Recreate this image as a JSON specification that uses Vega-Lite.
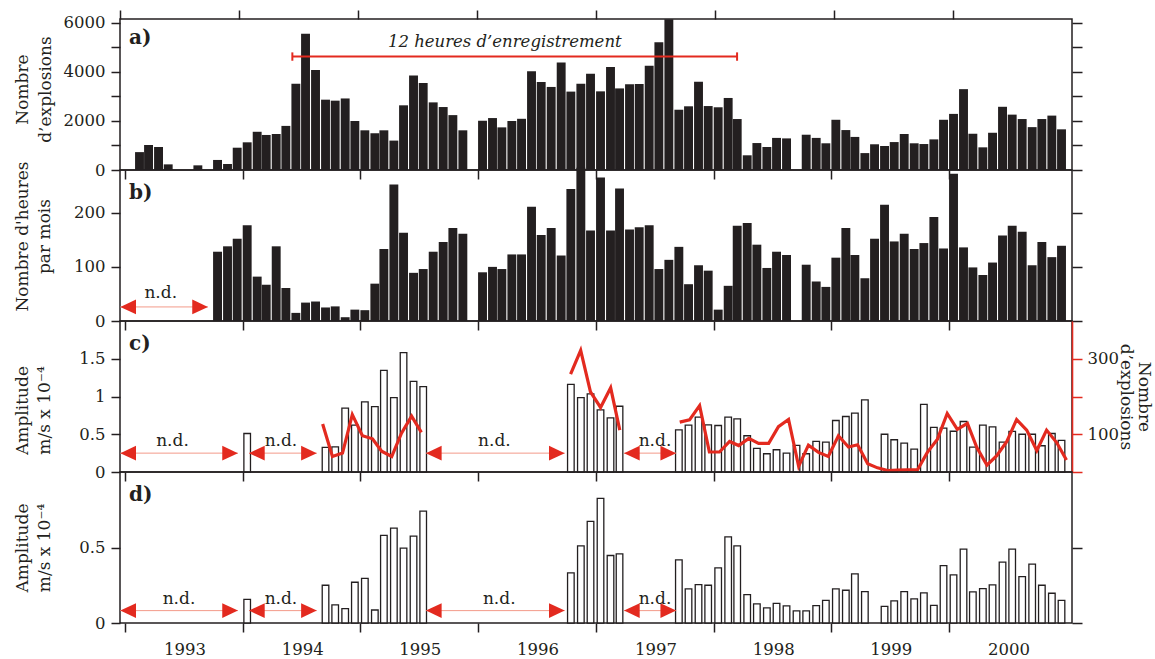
{
  "$schema": "https://vega.github.io/schema/vega-lite/v6.json",
  "background": "white",
  "padding": {"left": 12, "top": 8, "right": 0, "bottom": 0},
  "spacing": 0,
  "bounds": "flush",
  "config": {
    "font": "DejaVu Serif",
    "view": {"stroke": "#231f20", "strokeWidth": 1.5},
    "axis": {
      "grid": false, "domain": false, "ticks": true,
      "tickColor": "#231f20", "tickWidth": 1.5, "tickSize": 9,
      "labelFont": "DejaVu Serif", "labelFontSize": 16.5, "labelColor": "#231f20", "labelPadding": 6,
      "titleFont": "DejaVu Serif", "titleFontSize": 17, "titleFontWeight": "normal", "titleColor": "#231f20"
    }
  },
  "datasets": {
    "mensuel": [
      {"date": "1993-02-15", "a": 730},
      {"date": "1993-03-15", "a": 1020},
      {"date": "1993-04-15", "a": 940},
      {"date": "1993-05-15", "a": 230},
      {"date": "1993-08-15", "a": 190},
      {"date": "1993-10-15", "a": 410, "b": 128},
      {"date": "1993-11-15", "a": 245, "b": 138},
      {"date": "1993-12-15", "a": 910, "b": 152},
      {"date": "1994-01-15", "a": 1130, "b": 177, "c": 0.51, "d": 0.157},
      {"date": "1994-02-15", "a": 1560, "b": 82},
      {"date": "1994-03-15", "a": 1430, "b": 67},
      {"date": "1994-04-15", "a": 1470, "b": 138},
      {"date": "1994-05-15", "a": 1800, "b": 61},
      {"date": "1994-06-15", "a": 3520, "b": 15},
      {"date": "1994-07-15", "a": 5560, "b": 34},
      {"date": "1994-08-15", "a": 4080, "b": 36},
      {"date": "1994-09-15", "a": 2870, "b": 25, "c": 0.326, "d": 0.25},
      {"date": "1994-10-15", "a": 2830, "b": 27, "c": 0.334, "d": 0.12},
      {"date": "1994-11-15", "a": 2920, "b": 7, "c": 0.845, "d": 0.095},
      {"date": "1994-12-15", "a": 2000, "b": 21, "c": 0.62, "d": 0.27},
      {"date": "1995-01-15", "a": 1620, "b": 20, "c": 0.928, "d": 0.296},
      {"date": "1995-02-15", "a": 1500, "b": 69, "c": 0.867, "d": 0.086},
      {"date": "1995-03-15", "a": 1620, "b": 133, "c": 1.345, "d": 0.58},
      {"date": "1995-04-15", "a": 1200, "b": 252, "c": 0.985, "d": 0.628},
      {"date": "1995-05-15", "a": 2640, "b": 163, "c": 1.58, "d": 0.496},
      {"date": "1995-06-15", "a": 3860, "b": 89, "c": 1.2, "d": 0.575},
      {"date": "1995-07-15", "a": 3550, "b": 96, "c": 1.13, "d": 0.741},
      {"date": "1995-08-15", "a": 2760, "b": 128},
      {"date": "1995-09-15", "a": 2570, "b": 146},
      {"date": "1995-10-15", "a": 2240, "b": 172},
      {"date": "1995-11-15", "a": 1620, "b": 161},
      {"date": "1996-01-15", "a": 2010, "b": 90},
      {"date": "1996-02-15", "a": 2120, "b": 100},
      {"date": "1996-03-15", "a": 1740, "b": 96},
      {"date": "1996-04-15", "a": 2000, "b": 123},
      {"date": "1996-05-15", "a": 2090, "b": 123},
      {"date": "1996-06-15", "a": 4030, "b": 211},
      {"date": "1996-07-15", "a": 3590, "b": 159},
      {"date": "1996-08-15", "a": 3390, "b": 172},
      {"date": "1996-09-15", "a": 4390, "b": 121},
      {"date": "1996-10-15", "a": 3200, "b": 244, "c": 1.16, "d": 0.332},
      {"date": "1996-11-15", "a": 3520, "b": 283, "c": 0.985, "d": 0.511},
      {"date": "1996-12-15", "a": 3930, "b": 167, "c": 1.034, "d": 0.673},
      {"date": "1997-01-15", "a": 3210, "b": 265, "c": 0.823, "d": 0.825},
      {"date": "1997-02-15", "a": 4200, "b": 167, "c": 0.717, "d": 0.447},
      {"date": "1997-03-15", "a": 3330, "b": 245, "c": 0.871, "d": 0.458},
      {"date": "1997-04-15", "a": 3500, "b": 169},
      {"date": "1997-05-15", "a": 3510, "b": 173},
      {"date": "1997-06-15", "a": 4260, "b": 177},
      {"date": "1997-07-15", "a": 5210, "b": 96},
      {"date": "1997-08-15", "a": 6150, "b": 113},
      {"date": "1997-09-15", "a": 2460, "b": 137, "c": 0.559, "d": 0.418},
      {"date": "1997-10-15", "a": 2600, "b": 68, "c": 0.62, "d": 0.226},
      {"date": "1997-11-15", "a": 3600, "b": 103, "c": 0.726, "d": 0.254},
      {"date": "1997-12-15", "a": 2610, "b": 93, "c": 0.625, "d": 0.25},
      {"date": "1998-01-15", "a": 2560, "b": 21, "c": 0.616, "d": 0.365},
      {"date": "1998-02-15", "a": 2940, "b": 65, "c": 0.726, "d": 0.571},
      {"date": "1998-03-15", "a": 2080, "b": 176, "c": 0.704, "d": 0.511},
      {"date": "1998-04-15", "a": 600, "b": 181, "c": 0.48, "d": 0.188},
      {"date": "1998-05-15", "a": 1100, "b": 141, "c": 0.312, "d": 0.126},
      {"date": "1998-06-15", "a": 940, "b": 98, "c": 0.242, "d": 0.1},
      {"date": "1998-07-15", "a": 1310, "b": 128, "c": 0.295, "d": 0.13},
      {"date": "1998-08-15", "a": 1290, "b": 122, "c": 0.25, "d": 0.113},
      {"date": "1998-09-15", "c": 0.352, "d": 0.08},
      {"date": "1998-10-15", "a": 1440, "b": 104, "c": 0.242, "d": 0.08},
      {"date": "1998-11-15", "a": 1310, "b": 73, "c": 0.405, "d": 0.115},
      {"date": "1998-12-15", "a": 1090, "b": 63, "c": 0.396, "d": 0.15},
      {"date": "1999-01-15", "a": 2050, "b": 117, "c": 0.682, "d": 0.226},
      {"date": "1999-02-15", "a": 1630, "b": 172, "c": 0.735, "d": 0.217},
      {"date": "1999-03-15", "a": 1350, "b": 122, "c": 0.779, "d": 0.325},
      {"date": "1999-04-15", "a": 690, "b": 79, "c": 0.955, "d": 0.208},
      {"date": "1999-05-15", "a": 1050, "b": 152},
      {"date": "1999-06-15", "a": 980, "b": 215, "c": 0.5, "d": 0.11},
      {"date": "1999-07-15", "a": 1140, "b": 147, "c": 0.427, "d": 0.146},
      {"date": "1999-08-15", "a": 1470, "b": 161, "c": 0.383, "d": 0.208},
      {"date": "1999-09-15", "a": 1090, "b": 133, "c": 0.304, "d": 0.16},
      {"date": "1999-10-15", "a": 1060, "b": 144, "c": 0.897, "d": 0.2},
      {"date": "1999-11-15", "a": 1250, "b": 192, "c": 0.59, "d": 0.117},
      {"date": "1999-12-15", "a": 2050, "b": 134, "c": 0.58, "d": 0.38},
      {"date": "2000-01-15", "a": 2290, "b": 272, "c": 0.54, "d": 0.319},
      {"date": "2000-02-15", "a": 3300, "b": 136, "c": 0.669, "d": 0.489},
      {"date": "2000-03-15", "a": 1480, "b": 99, "c": 0.33, "d": 0.206},
      {"date": "2000-04-15", "a": 925, "b": 85, "c": 0.62, "d": 0.228},
      {"date": "2000-05-15", "a": 1520, "b": 108, "c": 0.598, "d": 0.252},
      {"date": "2000-06-15", "a": 2580, "b": 158, "c": 0.396, "d": 0.403},
      {"date": "2000-07-15", "a": 2260, "b": 176, "c": 0.537, "d": 0.489},
      {"date": "2000-08-15", "a": 2080, "b": 165, "c": 0.5, "d": 0.307},
      {"date": "2000-09-15", "a": 1750, "b": 103, "c": 0.5, "d": 0.39},
      {"date": "2000-10-15", "a": 2080, "b": 146, "c": 0.348, "d": 0.25},
      {"date": "2000-11-15", "a": 2220, "b": 118, "c": 0.51, "d": 0.197},
      {"date": "2000-12-15", "a": 1660, "b": 139, "c": 0.418, "d": 0.15}
    ],
    "explosions": [
      {"date": "1994-09-15", "n": 127, "serie": 1},
      {"date": "1994-10-15", "n": 41, "serie": 1},
      {"date": "1994-11-15", "n": 50, "serie": 1},
      {"date": "1994-12-15", "n": 152, "serie": 1},
      {"date": "1995-01-15", "n": 96, "serie": 1},
      {"date": "1995-02-15", "n": 88, "serie": 1},
      {"date": "1995-03-15", "n": 55, "serie": 1},
      {"date": "1995-04-15", "n": 41, "serie": 1},
      {"date": "1995-05-15", "n": 103, "serie": 1},
      {"date": "1995-06-15", "n": 148, "serie": 1},
      {"date": "1995-07-15", "n": 105, "serie": 1},
      {"date": "1996-10-15", "n": 259, "serie": 2},
      {"date": "1996-11-15", "n": 322, "serie": 2},
      {"date": "1996-12-15", "n": 212, "serie": 2},
      {"date": "1997-01-15", "n": 171, "serie": 2},
      {"date": "1997-02-15", "n": 223, "serie": 2},
      {"date": "1997-03-15", "n": 111, "serie": 2},
      {"date": "1997-09-15", "n": 132, "serie": 3},
      {"date": "1997-10-15", "n": 138, "serie": 3},
      {"date": "1997-11-15", "n": 176, "serie": 3},
      {"date": "1997-12-15", "n": 53, "serie": 3},
      {"date": "1998-01-15", "n": 53, "serie": 3},
      {"date": "1998-02-15", "n": 81, "serie": 3},
      {"date": "1998-03-15", "n": 70, "serie": 3},
      {"date": "1998-04-15", "n": 89, "serie": 3},
      {"date": "1998-05-15", "n": 76, "serie": 3},
      {"date": "1998-06-15", "n": 76, "serie": 3},
      {"date": "1998-07-15", "n": 120, "serie": 3},
      {"date": "1998-08-15", "n": 139, "serie": 3},
      {"date": "1998-09-15", "n": 15, "serie": 3},
      {"date": "1998-10-15", "n": 71, "serie": 3},
      {"date": "1998-11-15", "n": 52, "serie": 3},
      {"date": "1998-12-15", "n": 41, "serie": 3},
      {"date": "1999-01-15", "n": 96, "serie": 3},
      {"date": "1999-02-15", "n": 66, "serie": 3},
      {"date": "1999-03-15", "n": 72, "serie": 3},
      {"date": "1999-04-15", "n": 22, "serie": 3},
      {"date": "1999-05-15", "n": 11, "serie": 3},
      {"date": "1999-06-15", "n": 4, "serie": 3},
      {"date": "1999-07-15", "n": 5, "serie": 3},
      {"date": "1999-08-15", "n": 6, "serie": 3},
      {"date": "1999-09-15", "n": 6, "serie": 3},
      {"date": "1999-10-15", "n": 52, "serie": 3},
      {"date": "1999-11-15", "n": 87, "serie": 3},
      {"date": "1999-12-15", "n": 155, "serie": 3},
      {"date": "2000-01-15", "n": 113, "serie": 3},
      {"date": "2000-02-15", "n": 129, "serie": 3},
      {"date": "2000-03-15", "n": 65, "serie": 3},
      {"date": "2000-04-15", "n": 18, "serie": 3},
      {"date": "2000-05-15", "n": 43, "serie": 3},
      {"date": "2000-06-15", "n": 81, "serie": 3},
      {"date": "2000-07-15", "n": 139, "serie": 3},
      {"date": "2000-08-15", "n": 111, "serie": 3},
      {"date": "2000-09-15", "n": 57, "serie": 3},
      {"date": "2000-10-15", "n": 111, "serie": 3},
      {"date": "2000-11-15", "n": 78, "serie": 3},
      {"date": "2000-12-15", "n": 32, "serie": 3}
    ],
    "enregistrement": [
      {"debut": "1994-06-14", "fin": "1998-03-10", "milieu": "1996-03-27", "niveau": 4630, "texte": "12 heures d’enregistrement"}
    ],
    "nd": [
      {"panneau": "b", "debut": "1993-01-02", "fin": "1993-09-28", "milieu": "1993-05-06", "niveau": 26},
      {"panneau": "c", "debut": "1993-01-02", "fin": "1993-12-29", "milieu": "1993-06-11", "niveau": 0.25},
      {"panneau": "c", "debut": "1994-02-01", "fin": "1994-08-28", "milieu": "1994-05-10", "niveau": 0.25},
      {"panneau": "c", "debut": "1995-07-29", "fin": "1996-09-27", "milieu": "1996-02-24", "niveau": 0.25},
      {"panneau": "c", "debut": "1997-03-28", "fin": "1997-09-04", "milieu": "1997-07-01", "niveau": 0.25},
      {"panneau": "d", "debut": "1993-01-02", "fin": "1993-12-29", "milieu": "1993-07-01", "niveau": 0.082},
      {"panneau": "d", "debut": "1994-02-01", "fin": "1994-08-28", "milieu": "1994-05-10", "niveau": 0.082},
      {"panneau": "d", "debut": "1995-07-29", "fin": "1996-09-27", "milieu": "1996-03-10", "niveau": 0.082},
      {"panneau": "d", "debut": "1997-03-28", "fin": "1997-09-04", "milieu": "1997-07-01", "niveau": 0.082}
    ]
  },
  "vconcat": [
    {
      "width": 952, "height": 151,
      "resolve": {"scale": {"x": "independent", "y": "independent"}, "axis": {"x": "independent", "y": "independent"}},
      "layer": [
        {
          "data": {"name": "mensuel"},
          "transform": [{"filter": "isValid(datum.a)"}],
          "mark": {"type": "bar", "width": 8.9, "color": "#231f20"},
          "encoding": {
            "x": {"field": "date", "type": "temporal", "scale": {"domain": [{"year": 1993, "month": 1, "date": 1}, {"year": 2001, "month": 1, "date": 1}]},
                  "axis": {"orient": "bottom", "values": [{"year": 1993}, {"year": 1994}, {"year": 1995}, {"year": 1996}, {"year": 1997}, {"year": 1998}, {"year": 1999}, {"year": 2000}], "labels": false, "title": null}},
            "y": {"field": "a", "type": "quantitative", "scale": {"domain": [0, 6163], "nice": false},
                  "axis": {"orient": "left", "values": [0, 1000, 2000, 3000, 4000, 5000, 6000], "format": "d", "labelExpr": "datum.value % 2000 === 0 ? datum.label : ''",
                           "title": ["Nombre", "d’explosions"], "titleX": -89, "titleY": 70, "titleLineHeight": 23}}
          }
        },
        {
          "data": {"name": "enregistrement"},
          "mark": {"type": "rule", "color": "#e32a1f", "strokeWidth": 2},
          "encoding": {
            "x": {"field": "debut", "type": "temporal", "scale": {"domain": [{"year": 1993, "month": 1, "date": 1}, {"year": 2001, "month": 1, "date": 1}]},
                  "axis": {"orient": "top", "values": [{"year": 1993}, {"year": 1994}, {"year": 1995}, {"year": 1996}, {"year": 1997}, {"year": 1998}, {"year": 1999}, {"year": 2000}], "labels": false, "title": null}},
            "x2": {"field": "fin"},
            "y": {"field": "niveau", "type": "quantitative", "scale": {"domain": [0, 6163], "nice": false},
                  "axis": {"orient": "right", "values": [0, 1000, 2000, 3000, 4000, 5000, 6000], "labels": false, "tickSize": 10, "title": null}}
          }
        },
        {
          "data": {"name": "enregistrement"},
          "mark": {"type": "point", "shape": "M0,-1L0,1", "size": 70, "filled": false, "stroke": "#e32a1f", "strokeWidth": 2, "opacity": 1},
          "encoding": {
            "x": {"field": "debut", "type": "temporal", "scale": {"domain": [{"year": 1993, "month": 1, "date": 1}, {"year": 2001, "month": 1, "date": 1}]}, "axis": null},
            "y": {"field": "niveau", "type": "quantitative", "scale": {"domain": [0, 6163], "nice": false}, "axis": null}
          }
        },
        {
          "data": {"name": "enregistrement"},
          "mark": {"type": "point", "shape": "M0,-1L0,1", "size": 70, "filled": false, "stroke": "#e32a1f", "strokeWidth": 2, "opacity": 1},
          "encoding": {
            "x": {"field": "fin", "type": "temporal", "scale": {"domain": [{"year": 1993, "month": 1, "date": 1}, {"year": 2001, "month": 1, "date": 1}]}, "axis": null},
            "y": {"field": "niveau", "type": "quantitative", "scale": {"domain": [0, 6163], "nice": false}, "axis": null}
          }
        },
        {
          "data": {"name": "enregistrement"},
          "mark": {"type": "text", "fontStyle": "italic", "fontSize": 16.5, "baseline": "alphabetic", "align": "center", "dy": -10, "color": "#231f20"},
          "encoding": {
            "x": {"field": "milieu", "type": "temporal", "scale": {"domain": [{"year": 1993, "month": 1, "date": 1}, {"year": 2001, "month": 1, "date": 1}]}, "axis": null},
            "y": {"field": "niveau", "type": "quantitative", "scale": {"domain": [0, 6163], "nice": false}, "axis": null},
            "text": {"field": "texte"}
          }
        },
        {
          "data": {"values": [{}]},
          "mark": {"type": "text", "text": "a)", "align": "left", "baseline": "top", "dx": 9, "dy": 8.6, "fontSize": 20, "fontWeight": "bold", "color": "#231f20"},
          "encoding": {
            "x": {"datum": {"year": 1993, "month": 1, "date": 1}, "type": "temporal", "scale": {"domain": [{"year": 1993, "month": 1, "date": 1}, {"year": 2001, "month": 1, "date": 1}]}, "axis": null},
            "y": {"datum": 6163, "type": "quantitative", "scale": {"domain": [0, 6163], "nice": false}, "axis": null}
          }
        }
      ]
    },
    {
      "width": 952, "height": 151,
      "resolve": {"scale": {"x": "independent", "y": "independent"}, "axis": {"x": "independent", "y": "independent"}},
      "layer": [
        {
          "data": {"name": "mensuel"},
          "transform": [{"filter": "isValid(datum.b)"}],
          "mark": {"type": "bar", "width": 8.9, "color": "#231f20"},
          "encoding": {
            "x": {"field": "date", "type": "temporal", "scale": {"domain": [{"year": 1993, "month": 1, "date": 1}, {"year": 2001, "month": 1, "date": 1}]},
                  "axis": {"orient": "bottom", "values": [{"year": 1993}, {"year": 1994}, {"year": 1995}, {"year": 1996}, {"year": 1997}, {"year": 1998}, {"year": 1999}, {"year": 2000}], "labels": false, "title": null}},
            "y": {"field": "b", "type": "quantitative", "scale": {"domain": [0, 279], "nice": false},
                  "axis": {"orient": "left", "values": [0, 100, 200], "format": "d",
                           "title": ["Nombre d'heures", "par mois"], "titleX": -89, "titleY": 66, "titleLineHeight": 22}}
          }
        },
        {
          "data": {"name": "nd"},
          "transform": [{"filter": "datum.panneau === 'b'"}],
          "mark": {"type": "rule", "color": "#f39a8a", "strokeWidth": 1},
          "encoding": {
            "x": {"field": "debut", "type": "temporal", "scale": {"domain": [{"year": 1993, "month": 1, "date": 1}, {"year": 2001, "month": 1, "date": 1}]}, "axis": null},
            "x2": {"field": "fin"},
            "y": {"field": "niveau", "type": "quantitative", "scale": {"domain": [0, 279], "nice": false},
                  "axis": {"orient": "right", "values": [0, 100, 200], "labels": false, "tickSize": 10, "title": null}}
          }
        },
        {
          "data": {"name": "nd"},
          "transform": [{"filter": "datum.panneau === 'b'"}],
          "mark": {"type": "point", "shape": "M-1,0L1,-0.94L1,0.94Z", "size": 246, "filled": true, "color": "#e32a1f", "opacity": 1, "xOffset": 7.85},
          "encoding": {
            "x": {"field": "debut", "type": "temporal", "scale": {"domain": [{"year": 1993, "month": 1, "date": 1}, {"year": 2001, "month": 1, "date": 1}]}, "axis": null},
            "y": {"field": "niveau", "type": "quantitative", "scale": {"domain": [0, 279], "nice": false}, "axis": null}
          }
        },
        {
          "data": {"name": "nd"},
          "transform": [{"filter": "datum.panneau === 'b'"}],
          "mark": {"type": "point", "shape": "M1,0L-1,-0.94L-1,0.94Z", "size": 246, "filled": true, "color": "#e32a1f", "opacity": 1, "xOffset": -7.85},
          "encoding": {
            "x": {"field": "fin", "type": "temporal", "scale": {"domain": [{"year": 1993, "month": 1, "date": 1}, {"year": 2001, "month": 1, "date": 1}]}, "axis": null},
            "y": {"field": "niveau", "type": "quantitative", "scale": {"domain": [0, 279], "nice": false}, "axis": null}
          }
        },
        {
          "data": {"name": "nd"},
          "transform": [{"filter": "datum.panneau === 'b'"}],
          "mark": {"type": "text", "text": "n.d.", "fontSize": 17, "baseline": "alphabetic", "align": "center", "dy": -9, "color": "#231f20"},
          "encoding": {
            "x": {"field": "milieu", "type": "temporal", "scale": {"domain": [{"year": 1993, "month": 1, "date": 1}, {"year": 2001, "month": 1, "date": 1}]}, "axis": null},
            "y": {"field": "niveau", "type": "quantitative", "scale": {"domain": [0, 279], "nice": false}, "axis": null}
          }
        },
        {
          "data": {"values": [{}]},
          "mark": {"type": "text", "text": "b)", "align": "left", "baseline": "top", "dx": 9, "dy": 13.2, "fontSize": 20, "fontWeight": "bold", "color": "#231f20"},
          "encoding": {
            "x": {"datum": {"year": 1993, "month": 1, "date": 1}, "type": "temporal", "scale": {"domain": [{"year": 1993, "month": 1, "date": 1}, {"year": 2001, "month": 1, "date": 1}]}, "axis": null},
            "y": {"datum": 279, "type": "quantitative", "scale": {"domain": [0, 279], "nice": false}, "axis": null}
          }
        }
      ]
    },
    {
      "width": 952, "height": 151,
      "resolve": {"scale": {"x": "independent", "y": "independent"}, "axis": {"x": "independent", "y": "independent"}},
      "layer": [
        {
          "data": {"name": "mensuel"},
          "transform": [{"filter": "isValid(datum.c)"}],
          "mark": {"type": "bar", "width": 6.6, "fill": "white", "stroke": "#231f20", "strokeWidth": 1.3},
          "encoding": {
            "x": {"field": "date", "type": "temporal", "scale": {"domain": [{"year": 1993, "month": 1, "date": 1}, {"year": 2001, "month": 1, "date": 1}]},
                  "axis": {"orient": "bottom", "values": [{"year": 1993}, {"year": 1994}, {"year": 1995}, {"year": 1996}, {"year": 1997}, {"year": 1998}, {"year": 1999}, {"year": 2000}], "labels": false, "title": null}},
            "y": {"field": "c", "type": "quantitative", "scale": {"domain": [0, 2], "nice": false},
                  "axis": {"orient": "left", "values": [0, 0.5, 1, 1.5], "format": "~g",
                           "title": ["Amplitude", "m/s  x 10⁻⁴"], "titleX": -89, "titleY": 89, "titleLineHeight": 22}}
          }
        },
        {
          "data": {"name": "explosions"},
          "mark": {"type": "line", "color": "#e32a1f", "strokeWidth": 3.2},
          "encoding": {
            "x": {"field": "date", "type": "temporal", "scale": {"domain": [{"year": 1993, "month": 1, "date": 1}, {"year": 2001, "month": 1, "date": 1}]}, "axis": null},
            "y": {"field": "n", "type": "quantitative", "scale": {"domain": [0, 400], "nice": false},
                  "axis": {"orient": "right", "values": [0, 100, 200, 300], "format": "d", "labelExpr": "datum.value === 100 || datum.value === 300 ? datum.label : ''",
                           "domain": true, "domainColor": "#e32a1f", "domainWidth": 1.6, "tickColor": "#e32a1f", "tickSize": 10, "labelPadding": 5,
                           "title": ["Nombre", "d’explosions"], "titleX": 62, "titleLineHeight": 18}},
            "detail": {"field": "serie", "type": "nominal"}
          }
        },
        {
          "data": {"name": "nd"},
          "transform": [{"filter": "datum.panneau === 'c'"}],
          "mark": {"type": "rule", "color": "#f39a8a", "strokeWidth": 1},
          "encoding": {
            "x": {"field": "debut", "type": "temporal", "scale": {"domain": [{"year": 1993, "month": 1, "date": 1}, {"year": 2001, "month": 1, "date": 1}]}, "axis": null},
            "x2": {"field": "fin"},
            "y": {"field": "niveau", "type": "quantitative", "scale": {"domain": [0, 2], "nice": false}, "axis": null}
          }
        },
        {
          "data": {"name": "nd"},
          "transform": [{"filter": "datum.panneau === 'c'"}],
          "mark": {"type": "point", "shape": "M-1,0L1,-0.94L1,0.94Z", "size": 246, "filled": true, "color": "#e32a1f", "opacity": 1, "xOffset": 7.85},
          "encoding": {
            "x": {"field": "debut", "type": "temporal", "scale": {"domain": [{"year": 1993, "month": 1, "date": 1}, {"year": 2001, "month": 1, "date": 1}]}, "axis": null},
            "y": {"field": "niveau", "type": "quantitative", "scale": {"domain": [0, 2], "nice": false}, "axis": null}
          }
        },
        {
          "data": {"name": "nd"},
          "transform": [{"filter": "datum.panneau === 'c'"}],
          "mark": {"type": "point", "shape": "M1,0L-1,-0.94L-1,0.94Z", "size": 246, "filled": true, "color": "#e32a1f", "opacity": 1, "xOffset": -7.85},
          "encoding": {
            "x": {"field": "fin", "type": "temporal", "scale": {"domain": [{"year": 1993, "month": 1, "date": 1}, {"year": 2001, "month": 1, "date": 1}]}, "axis": null},
            "y": {"field": "niveau", "type": "quantitative", "scale": {"domain": [0, 2], "nice": false}, "axis": null}
          }
        },
        {
          "data": {"name": "nd"},
          "transform": [{"filter": "datum.panneau === 'c'"}],
          "mark": {"type": "text", "text": "n.d.", "fontSize": 17, "baseline": "alphabetic", "align": "center", "dy": -7, "color": "#231f20"},
          "encoding": {
            "x": {"field": "milieu", "type": "temporal", "scale": {"domain": [{"year": 1993, "month": 1, "date": 1}, {"year": 2001, "month": 1, "date": 1}]}, "axis": null},
            "y": {"field": "niveau", "type": "quantitative", "scale": {"domain": [0, 2], "nice": false}, "axis": null}
          }
        },
        {
          "data": {"values": [{}]},
          "mark": {"type": "text", "text": "c)", "align": "left", "baseline": "top", "dx": 9, "dy": 13.2, "fontSize": 20, "fontWeight": "bold", "color": "#231f20"},
          "encoding": {
            "x": {"datum": {"year": 1993, "month": 1, "date": 1}, "type": "temporal", "scale": {"domain": [{"year": 1993, "month": 1, "date": 1}, {"year": 2001, "month": 1, "date": 1}]}, "axis": null},
            "y": {"datum": 2, "type": "quantitative", "scale": {"domain": [0, 2], "nice": false}, "axis": null}
          }
        }
      ]
    },
    {
      "width": 952, "height": 151,
      "resolve": {"scale": {"x": "independent", "y": "independent"}, "axis": {"x": "independent", "y": "independent"}},
      "layer": [
        {
          "data": {"name": "mensuel"},
          "transform": [{"filter": "isValid(datum.d)"}],
          "mark": {"type": "bar", "width": 6.6, "fill": "white", "stroke": "#231f20", "strokeWidth": 1.3},
          "encoding": {
            "x": {"field": "date", "type": "temporal", "scale": {"domain": [{"year": 1993, "month": 1, "date": 1}, {"year": 2001, "month": 1, "date": 1}]},
                  "axis": {"orient": "bottom", "values": [{"year": 1993}, {"year": 1994}, {"year": 1995}, {"year": 1996}, {"year": 1997}, {"year": 1998}, {"year": 1999}, {"year": 2000}],
                           "format": "%Y", "labelOffset": 59.5, "labelFlush": false, "labelOverlap": false, "labelBound": false, "labelPadding": 9, "title": null}},
            "y": {"field": "d", "type": "quantitative", "scale": {"domain": [0, 1], "nice": false},
                  "axis": {"orient": "left", "values": [0, 0.5], "format": "~g",
                           "title": ["Amplitude", "m/s  x 10⁻⁴"], "titleX": -89, "titleLineHeight": 22}}
          }
        },
        {
          "data": {"name": "nd"},
          "transform": [{"filter": "datum.panneau === 'd'"}],
          "mark": {"type": "rule", "color": "#f39a8a", "strokeWidth": 1},
          "encoding": {
            "x": {"field": "debut", "type": "temporal", "scale": {"domain": [{"year": 1993, "month": 1, "date": 1}, {"year": 2001, "month": 1, "date": 1}]}, "axis": null},
            "x2": {"field": "fin"},
            "y": {"field": "niveau", "type": "quantitative", "scale": {"domain": [0, 1], "nice": false},
                  "axis": {"orient": "right", "values": [0, 0.5], "labels": false, "tickSize": 10, "title": null}}
          }
        },
        {
          "data": {"name": "nd"},
          "transform": [{"filter": "datum.panneau === 'd'"}],
          "mark": {"type": "point", "shape": "M-1,0L1,-0.94L1,0.94Z", "size": 246, "filled": true, "color": "#e32a1f", "opacity": 1, "xOffset": 7.85},
          "encoding": {
            "x": {"field": "debut", "type": "temporal", "scale": {"domain": [{"year": 1993, "month": 1, "date": 1}, {"year": 2001, "month": 1, "date": 1}]}, "axis": null},
            "y": {"field": "niveau", "type": "quantitative", "scale": {"domain": [0, 1], "nice": false}, "axis": null}
          }
        },
        {
          "data": {"name": "nd"},
          "transform": [{"filter": "datum.panneau === 'd'"}],
          "mark": {"type": "point", "shape": "M1,0L-1,-0.94L-1,0.94Z", "size": 246, "filled": true, "color": "#e32a1f", "opacity": 1, "xOffset": -7.85},
          "encoding": {
            "x": {"field": "fin", "type": "temporal", "scale": {"domain": [{"year": 1993, "month": 1, "date": 1}, {"year": 2001, "month": 1, "date": 1}]}, "axis": null},
            "y": {"field": "niveau", "type": "quantitative", "scale": {"domain": [0, 1], "nice": false}, "axis": null}
          }
        },
        {
          "data": {"name": "nd"},
          "transform": [{"filter": "datum.panneau === 'd'"}],
          "mark": {"type": "text", "text": "n.d.", "fontSize": 17, "baseline": "alphabetic", "align": "center", "dy": -7, "color": "#231f20"},
          "encoding": {
            "x": {"field": "milieu", "type": "temporal", "scale": {"domain": [{"year": 1993, "month": 1, "date": 1}, {"year": 2001, "month": 1, "date": 1}]}, "axis": null},
            "y": {"field": "niveau", "type": "quantitative", "scale": {"domain": [0, 1], "nice": false}, "axis": null}
          }
        },
        {
          "data": {"values": [{}]},
          "mark": {"type": "text", "text": "d)", "align": "left", "baseline": "top", "dx": 9, "dy": 13.2, "fontSize": 20, "fontWeight": "bold", "color": "#231f20"},
          "encoding": {
            "x": {"datum": {"year": 1993, "month": 1, "date": 1}, "type": "temporal", "scale": {"domain": [{"year": 1993, "month": 1, "date": 1}, {"year": 2001, "month": 1, "date": 1}]}, "axis": null},
            "y": {"datum": 1, "type": "quantitative", "scale": {"domain": [0, 1], "nice": false}, "axis": null}
          }
        }
      ]
    }
  ]
}
